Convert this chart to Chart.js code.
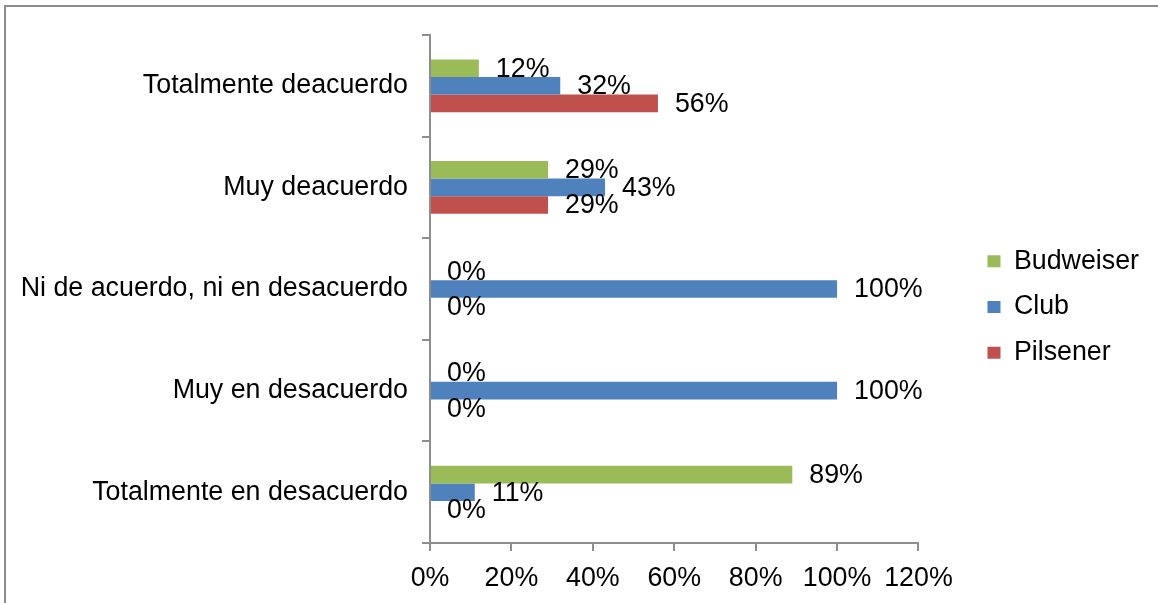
<!DOCTYPE html>
<html lang="es">
<head>
  <meta charset="UTF-8">
  <title>Budweiser, Club, Pilsener</title>
  <script src="https://cdn.jsdelivr.net/npm/chart.js"></script>
  <style>
    html, body {
      margin: 0;
      padding: 0;
      background: #fff;
      overflow: hidden;
    }
    #marco {
      position: absolute;
      left: 4px;
      top: 5px;
      width: 1200px;
      height: 700px;
      border: 2px solid #8c8c8c;
    }
    #grafica {
      position: absolute;
      left: 0;
      top: 0;
    }
  </style>
</head>
<body>
  <div id="marco"></div>
  <canvas id="grafica" width="1158" height="603"></canvas>

<script>
const categorias = [
  'Totalmente deacuerdo',
  'Muy deacuerdo',
  'Ni de acuerdo, ni en desacuerdo',
  'Muy en desacuerdo',
  'Totalmente en desacuerdo'
];
const budweiser = [12, 29, 0, 0, 89];
const club = [32, 43, 100, 100, 11];
const pilsener = [56, 29, 0, 0, 0];
const ticksX = [0, 20, 40, 60, 80, 100, 120];

const fuente = '"Liberation Sans", Arial, sans-serif';
const tam = 26.8;
const gris = '#8e8e8e';

Chart.defaults.font.family = fuente;
Chart.defaults.font.size = tam;
Chart.defaults.color = '#000';

// etiquetas de valor al final de cada barra
const etiquetas = {
  id: 'etiquetas',
  afterLayout(chart) {
    // subir un poco la leyenda y acercarla al área del gráfico
    const l = chart.legend;
    l.top -= 12; l.bottom -= 12;
    l.left -= 3; l.right -= 3;
  },
  afterDatasetsDraw(chart) {
    const ctx = chart.ctx;
    ctx.save();
    ctx.font = tam + 'px ' + fuente;
    ctx.fillStyle = '#000';
    ctx.textAlign = 'left';
    ctx.textBaseline = 'middle';
    chart.data.datasets.forEach((ds, i) => {
      chart.getDatasetMeta(i).data.forEach((barra, j) => {
        ctx.fillText(ds.data[j] + '%', barra.x + 17, barra.y + 1);
      });
    });
    ctx.restore();
  }
};

new Chart(document.getElementById('grafica'), {
  type: 'bar',
  data: {
    labels: categorias,
    datasets: [
      { label: 'Budweiser', data: budweiser, backgroundColor: '#9bbb59' },
      { label: 'Club', data: club, backgroundColor: '#4f81bd' },
      { label: 'Pilsener', data: pilsener, backgroundColor: '#c0504d' }
    ]
  },
  options: {
    indexAxis: 'y',
    responsive: false,
    animation: false,
    devicePixelRatio: 1,
    categoryPercentage: 0.52,
    barPercentage: 1,
    layout: { padding: { left: 12, top: 35, right: 6, bottom: 0 } },
    plugins: {
      legend: {
        position: 'right',
        labels: {
          boxWidth: 13,
          boxHeight: 12,
          padding: 19,
          color: '#000',
          font: { size: tam }
        }
      },
      tooltip: { enabled: false }
    },
    scales: {
      x: {
        min: 0,
        max: 120,
        afterBuildTicks: s => { s.ticks = ticksX.map(v => ({ value: v })); },
        afterFit: s => { s.height = 60; },
        ticks: { padding: 12, callback: v => v + '%', color: '#000' },
        grid: { drawOnChartArea: false, tickLength: 8, color: gris, lineWidth: 2 },
        border: { color: gris, width: 2 }
      },
      y: {
        afterFit: s => { s.width = 418; },
        ticks: { padding: 14, color: '#000' },
        grid: { drawOnChartArea: false, tickLength: 8, color: gris, lineWidth: 2, offset: true },
        border: { color: gris, width: 2 }
      },
      hueco: {
        type: 'linear',
        position: 'right',
        min: 0,
        max: 1,
        ticks: { display: false },
        grid: { display: false },
        border: { display: false },
        afterFit: s => { s.width = 53; }
      }
    }
  },
  plugins: [etiquetas]
});
</script>
</body>
</html>
